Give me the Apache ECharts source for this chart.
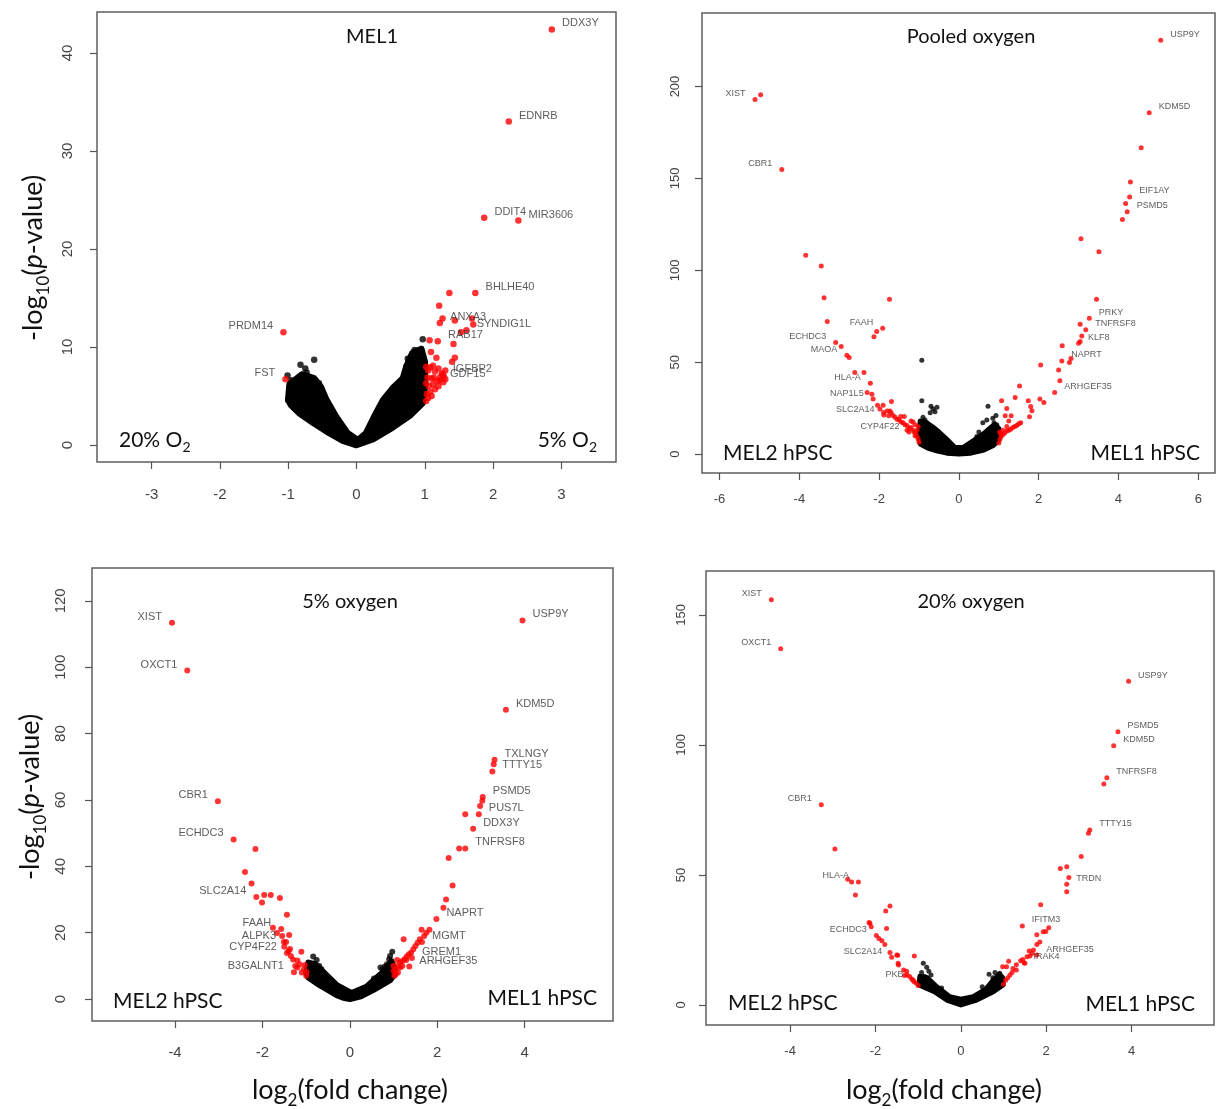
<!DOCTYPE html>
<html>
<head>
<meta charset="utf-8">
<title>Volcano plots</title>
<script src="https://cdn.jsdelivr.net/npm/echarts@6/dist/echarts.min.js"></script>
<style>
  html, body { margin: 0; padding: 0; background: #fff; }
  #chart { width: 1216px; height: 1109px; }
</style>
</head>
<body>
<div id="chart"></div>
<script>
// ---- MEL1 (20% vs 5% O2) ----
const mel1XTicks = [-3, -2, -1, 0, 1, 2, 3];
const mel1YTicks = [0, 10, 20, 30, 40];
// outline of the dense black cloud (log2FC, -log10 p)
const mel1Cloud = [[-0.98,6.2],[-1.0,4.6],[-0.96,4.1],[-0.83,3.2],[-0.64,2.3],[-0.44,1.4],[-0.2,0.45],[0,0],[0.24,0.6],[0.53,1.8],[0.78,3.0],[0.97,4.3],[1.0,6.0],[1.0,8.5],[0.95,9.8],[0.82,9.4],[0.73,8.0],[0.68,6.8],[0.53,5.8],[0.39,4.6],[0.26,2.9],[0.14,1.2],[0.02,0.5],[-0.13,1.2],[-0.30,2.9],[-0.44,4.6],[-0.52,5.9],[-0.62,6.8],[-0.80,7.2]];
const mel1Black = [[-0.62,8.7],[-0.82,8.2],[-0.75,7.8],[-0.73,7.4],[-1.01,7.1],[-0.96,6.6],[-0.93,6.0],[-0.98,5.4],[-1.0,4.6],[-0.9,5.2],[-0.86,6.2],[-0.6,6.0],[-0.65,5.6],[-0.7,5.2],[-0.55,6.3],[-0.58,5.0],[-0.48,4.2],[-0.78,3.6],[0.97,10.8],[0.85,9.7],[0.9,9.5],[0.82,9.2],[0.75,8.8],[0.78,8.3],[0.95,8.6],[0.73,8.0],[0.88,7.6],[0.93,7.2],[0.62,6.0],[0.58,5.2],[0.66,5.5],[0.5,4.8],[0.7,6.8],[0.45,4.0],[0.35,3.4],[0.86,3.8]];
const mel1Red = [[1.36,15.5],[1.21,14.2],[1.26,12.9],[1.44,12.7],[1.69,12.9],[1.71,12.3],[1.53,11.5],[1.07,10.7],[1.42,10.3],[1.09,9.5],[1.17,8.9],[1.44,8.9],[1.40,8.5],[1.02,8.0],[1.05,7.6],[1.08,7.9],[1.12,8.1],[1.15,7.5],[1.20,7.8],[1.25,7.3],[1.28,7.0],[1.22,6.9],[1.18,6.5],[1.10,6.8],[1.04,6.9],[1.02,6.3],[1.06,6.0],[1.12,6.2],[1.20,6.0],[1.27,6.4],[1.30,7.6],[1.15,5.7],[1.08,5.4],[1.03,5.2],[1.05,4.8],[1.10,5.0],[1.02,4.5],[1.13,6.9],[1.30,6.7]];
const mel1Genes = [['DDX3Y',2.86,42.4],['EDNRB',2.23,33.0],['DDIT4',1.87,23.2],['MIR3606',2.37,22.9],['BHLHE40',1.74,15.5],['ANXA3',1.22,12.45],['SYNDIG1L',1.61,11.7],['RAB17',1.19,10.6],['IGFBP2',1.26,7.2],['GDF15',1.22,6.6],['PRDM14',-1.07,11.5],['FST',-1.04,6.7]];

// ---- Pooled oxygen (MEL2 vs MEL1) ----
const pooledXTicks = [-6, -4, -2, 0, 2, 4, 6];
const pooledYTicks = [0, 50, 100, 150, 200];
const pooledCloud = [[-0.97,18],[-1.0,10],[-0.97,5.5],[-0.78,3.3],[-0.56,1.8],[-0.3,0.5],[0,0],[0.3,0.5],[0.6,2.0],[0.85,4.5],[1.0,7.5],[1.0,14],[0.9,16],[0.8,14.5],[0.61,10.9],[0.36,7.2],[0.11,3.6],[-0.1,3.6],[-0.31,8.2],[-0.5,12],[-0.64,14.5],[-0.85,17.5]];
const pooledBlack = [[-0.93,51],[-0.93,29],[-0.7,26],[-0.65,24.5],[-0.6,23],[-0.55,25.5],[-0.72,22.5],[0.73,26],[0.93,21],[0.85,19.5],[0.7,18.5],[0.6,17],[0.88,17],[0.95,16],[-0.9,20],[-0.85,18.5],[-0.8,17],[-0.95,16],[-0.75,15.5],[-0.7,14],[-0.45,10],[-0.35,7.5],[0.45,9.5],[0.5,12]];
const pooledRed = [[-4.97,195.5],[4.57,166.7],[4.30,148.0],[4.18,136.4],[4.10,127.7],[3.06,117.2],[3.51,110.1],[-3.84,108.2],[-3.45,102.4],[-3.38,85.1],[-1.74,84.2],[3.45,84.2],[-3.30,72.1],[-2.06,66.7],[-2.13,63.9],[3.04,70.7],[3.08,64.3],[3.04,61.2],[2.59,58.9],[-2.95,58.5],[-2.75,52.5],[2.81,52.0],[2.77,49.8],[2.05,48.4],[-2.61,44.4],[-2.38,44.4],[2.50,45.8],[2.53,39.9],[1.52,37.1],[-2.30,33.5],[-2.18,32.6],[1.41,30.8],[1.07,29.0],[1.74,29.0],[2.03,29.9],[2.13,28.1],[1.20,24.8],[1.80,25.9],[1.83,23.6],[1.31,20.8],[1.77,20.3],[-1.69,28.6],[-2.04,26.6],[-1.98,24.5],[-1.89,22.6],[-1.76,20.8],[-1.46,20.5],[-1.37,20.5],
  [-1.0,6.5],[-1.02,8],[-1.05,9.5],[-1.08,11],[-1.12,12],[-1.15,13],[-1.2,14.5],[-1.25,14],[-1.3,15.5],[-1.35,16],[-1.4,17],[-1.45,17.5],[-1.5,18.5],[-1.55,19],[-1.6,20],[-1.65,21],[-1.7,22.5],[-1.8,23.5],[-1.05,13],[-1.1,16],[-1.15,17.5],[-1.02,15],[-1.2,18],[-1.3,13],[-1.1,10],[-1.73,23.5],[-1.9,26.6],
  [1.0,6],[1.03,8],[1.06,9.5],[1.1,10.5],[1.15,11.5],[1.2,12.5],[1.25,13],[1.3,13.5],[1.35,14.5],[1.4,15],[1.45,15.5],[1.5,16.5],[1.55,17],[1.1,13],[1.05,11],[1.2,15],[1.25,18],[1.02,12],[1.16,20.8]];
const pooledGenes = [['USP9Y',5.06,225.2],['XIST',-5.11,192.9],['KDM5D',4.77,185.7],['CBR1',-4.44,154.9],['EIF1AY',4.28,139.9],['PSMD5',4.22,131.9],['PRKY',3.27,73.9],['TNFRSF8',3.18,67.6],['KLF8',3.00,60.3],['NAPRT',2.58,50.7],['ARHGEF35',2.40,33.5],['FAAH',-1.91,68.5],['ECHDC3',-3.09,60.7],['MAOA',-2.81,53.8],['HLA-A',-2.22,38.6],['NAP1L5',-2.15,29.9],['SLC2A14',-1.88,21.2],['CYP4F22',-1.25,12]];

// ---- 5% oxygen ----
const o5XTicks = [-4, -2, 0, 2, 4];
const o5YTicks = [0, 20, 40, 60, 80, 100, 120];
const o5Cloud = [[-0.95,11],[-1.0,8],[-0.95,6.5],[-0.69,4.2],[-0.30,1.2],[-0.15,0.4],[0,0],[0.25,0.8],[0.53,2.7],[0.92,5.7],[1.02,7.5],[1.0,10],[0.95,11.2],[0.76,8.2],[0.38,3.7],[0.04,1.8],[-0.30,4.2],[-0.61,8.2],[-0.8,10.5]];
const o5Black = [[-0.84,12.8],[-0.76,11.8],[-0.8,10.5],[-0.9,9.5],[-0.7,10],[-0.95,8.5],[-0.65,9],[-0.5,6.5],[0.97,14.3],[0.92,13],[0.95,11.5],[0.85,10.5],[0.8,9.8],[0.7,9.5],[0.9,12],[0.75,9],[0.55,6.2]];
const o5Red = [[3.29,70.8],[3.03,59.8],[2.98,58.2],[2.64,55.7],[2.50,45.4],[2.26,42.5],[2.35,34.2],[2.20,30.0],[2.14,27.5],[1.64,20.9],[1.82,20.9],[1.23,18.0],
  [1.75,20],[1.7,19],[1.6,18],[1.55,17],[1.5,16],[1.45,15],[1.4,14],[1.35,13.5],[1.3,12.8],[1.25,12],[1.2,11.5],[1.15,11],[1.1,10],[1.05,9],[1.0,8.5],[1.1,8],[1.05,7.5],[1.15,9.5],[1.2,10],[1.0,10],[1.08,11.8],[1.29,11.8],[1.02,7],
  [-2.16,45.2],[-2.40,38.3],[-2.25,34.8],[-1.96,31.4],[-1.81,31.4],[-2.01,29.1],[-1.60,30.5],[-1.44,25.4],[-1.76,21.5],[-1.67,19.9],[-1.55,19.0],[-1.39,19.3],[-1.51,17.2],[-1.50,15.8],[-1.37,15.1],[-1.11,14.3],[-1.30,11.9],[-1.20,11.6],[-1.03,10.3],[-0.99,8.2],[-1.05,9],[-1.15,10.5],[-1.25,10],[-1.1,8],[-1.0,7],[-1.35,13],[-1.2,9.5],[-1.4,14.5]];
const o5Genes = [['XIST',-4.07,113.4],['OXCT1',-3.72,99.0],['USP9Y',3.95,114.1],['KDM5D',3.57,87.2],['TXLNGY',3.31,72.1],['TTTY15',3.26,68.6],['PSMD5',3.04,60.9],['PUS7L',2.95,55.7],['DDX3Y',2.82,51.3],['TNFRSF8',2.64,45.4],['NAPRT',1.98,24.1],['MGMT',1.65,17.2],['GREM1',1.42,12.4],['ARHGEF35',1.36,9.8],['CBR1',-3.02,59.6],['ECHDC3',-2.66,48.1],['SLC2A14',-2.14,30.8],['FAAH',-1.57,21.1],['ALPK3',-1.46,17.2],['CYP4F22',-1.44,13.9],['B3GALNT1',-1.28,8.1]];

// ---- 20% oxygen ----
const o20XTicks = [-4, -2, 0, 2, 4];
const o20YTicks = [0, 50, 100, 150];
const o20Cloud = [[-0.96,11],[-0.98,7.7],[-0.62,5.1],[-0.33,1.9],[0,0],[0.37,1.9],[0.76,5.1],[0.99,7.7],[0.98,10.5],[0.9,11.8],[0.74,9.2],[0.58,6.0],[0.29,3.2],[0,2.2],[-0.26,3.2],[-0.57,7.1],[-0.8,10.6]];
const o20Black = [[-0.88,16],[-0.8,14.5],[-0.75,13],[-0.92,12.5],[-0.7,11.5],[-0.85,11],[-0.45,6.5],[0.66,11.8],[0.91,12.2],[0.75,10.5],[0.85,10],[0.95,11],[0.8,12.5],[0.5,7]];
const o20Red = [[3.35,85.0],[2.99,66.0],[-2.95,60.0],[2.82,57.1],[2.33,52.5],[2.48,53.2],[2.53,49.0],[2.48,43.5],[-2.65,48.4],[-2.56,47.3],[-2.47,42.3],[1.87,38.5],[-1.66,38.1],[-1.76,36.1],[2.06,29.7],[1.99,28.3],[-2.15,31.7],[-2.10,30.1],[-1.74,29.4],[-1.92,25.6],[-1.85,24.7],[-1.78,23.3],[1.78,27.0],[1.85,24.2],[1.78,23.3],[1.70,21.1],[1.67,19.9],[1.62,18.8],[-1.66,20.2],[-1.48,19.1],[-1.09,18.8],[-1.46,15.4],[1.12,16.8],[0.98,14.7],[-1.27,13],[-1.32,11.3],
  [-2.13,31.4],[-1.5,19.2],[-1.47,16],[-1.34,13.5],[-1.26,11.5],[-1.15,10],[-1.05,8.5],[-1.0,7.5],[-1.2,11],[-1.1,9],
  [1.07,14.7],[1.22,14],[1.3,15.5],[1.4,17],[1.0,8],[1.05,9.5],[1.1,10.5],[1.15,11.5],[1.2,12.5],[1.3,13.5],[1.45,17.5],[1.55,18.5],[1.6,20.8],[1.93,28.2],[1.5,16]];
const o20Genes = [['XIST',-4.44,155.8],['OXCT1',-4.22,137.0],['CBR1',-3.27,77.0],['HLA-A',-2.40,47.3],['ECHDC3',-1.98,26.7],['SLC2A14',-1.62,18.4],['PKB',-1.12,9.6],['USP9Y',3.93,124.5],['PSMD5',3.68,105.1],['KDM5D',3.58,99.7],['TNFRSF8',3.42,87.4],['TTTY15',3.02,67.3],['TRDN',2.48,46.4],['IFITM3',1.44,30.4],['ARHGEF35',1.78,19.2],['IRAK4',1.48,16.2]];

// ---- layout of the four panels ----
const panels = [
  { grid: { left: 97, top: 12, width: 519, height: 450 }, xr: [-3.8, 3.8], yr: [-1.73, 44.18],
    xTicks: mel1XTicks, yTicks: mel1YTicks, dot: 6.5, geneFont: 11, tickFont: 15, xMargin: 25, yMargin: 22,
    cloud: mel1Cloud, black: mel1Black, red: mel1Red, genes: mel1Genes },
  { grid: { left: 702, top: 13, width: 513, height: 460 }, xr: [-6.44, 6.42], yr: [-10.3, 240],
    xTicks: pooledXTicks, yTicks: pooledYTicks, dot: 5, geneFont: 9, tickFont: 13, xMargin: 20, yMargin: 20,
    cloud: pooledCloud, black: pooledBlack, red: pooledRed, genes: pooledGenes },
  { grid: { left: 92, top: 568, width: 521, height: 453 }, xr: [-5.9, 6.02], yr: [-6.6, 129.9],
    xTicks: o5XTicks, yTicks: o5YTicks, dot: 6, geneFont: 11, tickFont: 15, xMargin: 24, yMargin: 24,
    cloud: o5Cloud, black: o5Black, red: o5Red, genes: o5Genes },
  { grid: { left: 706, top: 571, width: 508, height: 454 }, xr: [-5.97, 5.93], yr: [-7.7, 166.9],
    xTicks: o20XTicks, yTicks: o20YTicks, dot: 5, geneFont: 9, tickFont: 13, xMargin: 20, yMargin: 18,
    cloud: o20Cloud, black: o20Black, red: o20Red, genes: o20Genes }
];

const tickColor = '#555';
const grids = [], xAxes = [], yAxes = [], series = [];

panels.forEach(function (p, i) {
  grids.push(Object.assign({ show: true, borderColor: '#5f5f5f', borderWidth: 1.5, containLabel: false }, p.grid));
  const axisBase = {
    gridIndex: i, type: 'value', splitLine: { show: false },
    axisLine: { show: false, onZero: false },
    axisTick: { show: true, length: 7, lineStyle: { color: tickColor, width: 1.2 } },
    axisLabel: { color: '#444', fontFamily: 'Liberation Sans', fontSize: p.tickFont }
  };
  xAxes.push(echarts.util.merge({
    min: p.xr[0], max: p.xr[1],
    axisTick: { customValues: p.xTicks },
    axisLabel: { customValues: p.xTicks, margin: p.xMargin }
  }, axisBase));
  yAxes.push(echarts.util.merge({
    min: p.yr[0], max: p.yr[1],
    axisTick: { customValues: p.yTicks },
    axisLabel: { customValues: p.yTicks, margin: p.yMargin, rotate: 90 }
  }, axisBase));

  series.push({
    type: 'custom', xAxisIndex: i, yAxisIndex: i, data: [[0, 0]], silent: true, z: 1,
    renderItem: function (params, api) {
      return {
        type: 'polygon',
        shape: { points: p.cloud.map(function (c) { return api.coord(c); }) },
        style: { fill: '#000', stroke: '#000', lineWidth: p.dot, lineJoin: 'round' }
      };
    }
  });
  series.push({ type: 'scatter', xAxisIndex: i, yAxisIndex: i, data: p.black, symbolSize: p.dot,
    itemStyle: { color: '#000' }, z: 2 });
  series.push({ type: 'scatter', xAxisIndex: i, yAxisIndex: i, data: p.red, symbolSize: p.dot,
    itemStyle: { color: '#ff0000' }, z: 3 });
  series.push({
    type: 'scatter', xAxisIndex: i, yAxisIndex: i, symbolSize: p.dot, z: 4,
    itemStyle: { color: '#ff0000' },
    label: { show: true, formatter: '{b}', fontSize: p.geneFont, color: '#333', fontFamily: 'Liberation Sans' },
    data: p.genes.map(function (g) {
      const left = g[1] < 0;
      return { name: g[0], value: [g[1], g[2]],
        label: { position: left ? 'left' : 'right', offset: [left ? -2 : 2, -6] } };
    })
  });
});

// text styles for subscripts / italics
const big = { fontSize: 27, lineHeight: 27, verticalAlign: 'top', fontFamily: 'Lato', fill: '#111' };
const bigIt = Object.assign({}, big, { fontStyle: 'italic' });
const bigSub = { fontSize: 17, lineHeight: 33, verticalAlign: 'bottom', fontFamily: 'Lato', fill: '#111' };
const mid = { fontSize: 21, lineHeight: 21, verticalAlign: 'top', fontFamily: 'Lato', fill: '#111' };
const midSub = { fontSize: 14, lineHeight: 25, verticalAlign: 'bottom', fontFamily: 'Lato', fill: '#111' };

function plain(text, x, y, align, size) {
  return { type: 'text', x: x, y: y, z: 10,
    style: { text: text, fontSize: size || 21, fontFamily: 'Lato', fill: '#111', align: align, verticalAlign: 'middle' } };
}
function rich(text, x, y, align, styles, rotation) {
  return { type: 'text', x: x, y: y, z: 10, rotation: rotation || 0,
    style: { text: text, rich: styles, align: align, verticalAlign: 'middle' } };
}
const o2Rich = { n: mid, s: midSub };
const yTitle = '{n|-log}{s|10}{n|(}{i|p}{n|-value)}';
const xTitle = '{n|log}{s|2}{n|(fold change)}';
const titleRich = { n: big, s: bigSub, i: bigIt };

const graphics = [
  plain('MEL1', 372, 37, 'center', 20),
  rich('{n|20% O}{s|2}', 119, 442, 'left', o2Rich),
  rich('{n|5% O}{s|2}', 597, 442, 'right', o2Rich),
  plain('Pooled oxygen', 971, 37, 'center', 20),
  plain('MEL2 hPSC', 723, 453, 'left'),
  plain('MEL1 hPSC', 1200, 453, 'right'),
  plain('5% oxygen', 350, 602, 'center', 20),
  plain('MEL2 hPSC', 113, 1001, 'left'),
  plain('MEL1 hPSC', 597, 998, 'right'),
  plain('20% oxygen', 971, 602, 'center', 20),
  plain('MEL2 hPSC', 728, 1003, 'left'),
  plain('MEL1 hPSC', 1195, 1004, 'right'),
  rich(yTitle, 36, 258, 'center', titleRich, Math.PI / 2),
  rich(yTitle, 33, 797, 'center', titleRich, Math.PI / 2),
  rich(xTitle, 350, 1093, 'center', titleRich),
  rich(xTitle, 944, 1093, 'center', titleRich)
];

const chart = echarts.init(document.getElementById('chart'));
chart.setOption({
  animation: false,
  backgroundColor: '#fff',
  grid: grids,
  xAxis: xAxes,
  yAxis: yAxes,
  series: series,
  graphic: { elements: graphics }
});
</script>
</body>
</html>
